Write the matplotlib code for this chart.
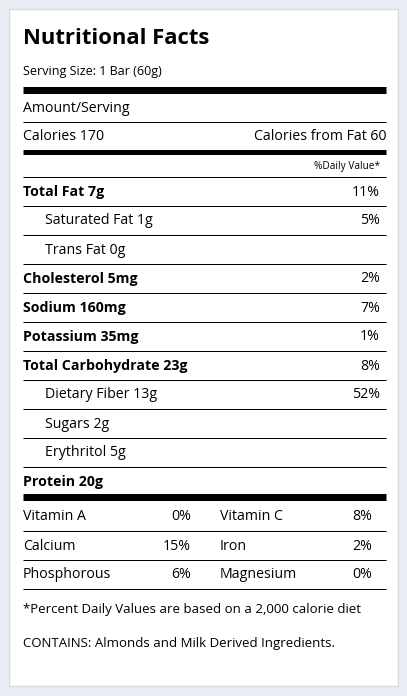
import matplotlib.pyplot as plt

plt.rcParams['font.family'] = ['Open Sans', 'DejaVu Sans']

title = "Nutritional Facts"
serving = "Serving Size: 1 Bar (60g)"
calories = "Calories 170"
cal_fat = "Calories from Fat 60"

# (label, percent, bold, indent)
rows = [
    ("Total Fat 7g", "11%", True, False),
    ("Saturated Fat 1g", "5%", False, True),
    ("Trans Fat 0g", "", False, True),
    ("Cholesterol 5mg", "2%", True, False),
    ("Sodium 160mg", "7%", True, False),
    ("Potassium 35mg", "1%", True, False),
    ("Total Carbohydrate 23g", "8%", True, False),
    ("Dietary Fiber 13g", "52%", False, True),
    ("Sugars 2g", "", False, True),
    ("Erythritol 5g", "", False, True),
    ("Protein 20g", "", True, False),
]
vitamins = [
    ("Vitamin A", "0%", "Vitamin C", "8%"),
    ("Calcium", "15%", "Iron", "2%"),
    ("Phosphorous", "6%", "Magnesium", "0%"),
]
footnote = "*Percent Daily Values are based on a 2,000 calorie diet"
contains = "CONTAINS: Almonds and Milk Derived Ingredients."

fig = plt.figure(figsize=(4.07, 6.96), dpi=100, facecolor='#e9eef4')
ax = fig.add_axes([0, 0, 1, 1])
ax.set_xlim(0, 407)
ax.set_ylim(696, 0)
ax.axis('off')

ax.add_patch(plt.Rectangle((9, 9), 389, 677, facecolor='white', edgecolor='#d5dbe2', lw=1))

L, R, PR = 23, 386, 380
fs = 10.2

def hline(y, w=1, x0=L):
    ax.plot([x0, R], [y, y], color='black', lw=w * 0.72, solid_capstyle='butt')

ax.text(L, 38, title, fontsize=15.8, fontweight='bold', va='center')
ax.text(L, 71, serving, fontsize=9, va='center')
hline(90, 7)
ax.text(L, 108, "Amount/Serving", fontsize=fs, va='center')
hline(122)
ax.text(L, 137, calories, fontsize=fs, va='center')
ax.text(R, 137, cal_fat, fontsize=fs, va='center', ha='right')
hline(152, 5)
ax.text(PR, 166, "%Daily Value*", fontsize=7.3, va='center', ha='right')
hline(177)

y = 192
for i, (lab, pct, bold, ind) in enumerate(rows):
    ax.text(45 if ind else L, y, lab, fontsize=fs, va='center',
            fontweight='bold' if bold else 'normal')
    if pct:
        ax.text(PR, y, pct, fontsize=fs, va='center', ha='right')
    if i < len(rows) - 1:
        hline(y + 14)
    y += 29
hline(497, 7)

y = 517
for a, pa, b, pb in vitamins:
    ax.text(L, y, a, fontsize=fs, va='center')
    ax.text(191, y, pa, fontsize=fs, va='center', ha='right')
    ax.text(220, y, b, fontsize=fs, va='center')
    ax.text(372, y, pb, fontsize=fs, va='center', ha='right')
    hline(y + 14)
    y += 29

ax.text(L, 610, footnote, fontsize=9.5, va='center')
ax.text(L, 643, contains, fontsize=9.5, va='center')

fig.savefig('out.png', dpi=100, facecolor=fig.get_facecolor())
